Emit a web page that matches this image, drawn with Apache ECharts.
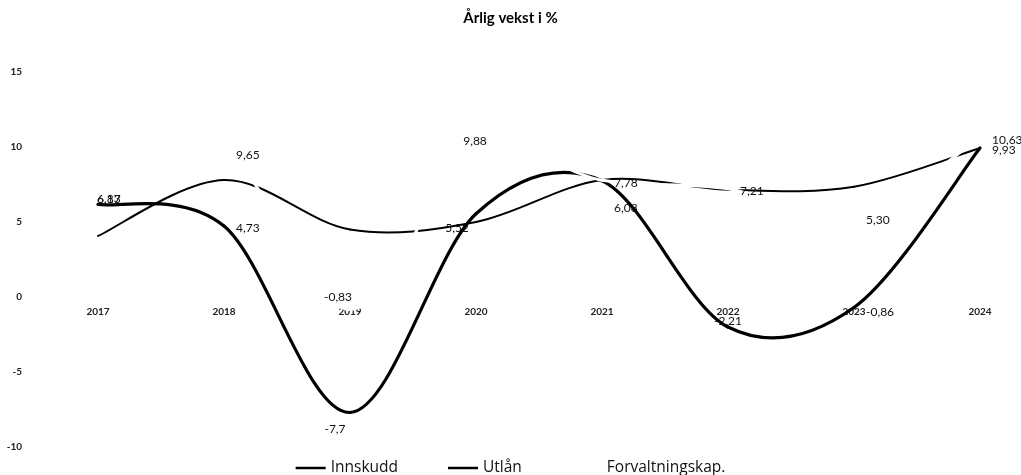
<!DOCTYPE html>
<html>
<head>
<meta charset="utf-8">
<title>Årlig vekst i %</title>
<script src="https://cdn.jsdelivr.net/npm/echarts@6/dist/echarts.min.js"></script>
<style>
  html, body { margin: 0; padding: 0; background: #fff; }
  #chart { width: 1021px; height: 475px; }
</style>
</head>
<body>
<div id="chart"></div>
<script>
// categories
const years = ['2017', '2018', '2019', '2020', '2021', '2022', '2023', '2024'];
// lines as drawn
const innskudd = [6.17, 4.73, -7.7, 5.55, 7.75, -2.0, -0.7, 9.93];
const utlan = [4.07, 7.8, 4.5, 5.0, 7.8, 7.15, 7.35, 9.93];
const forvaltning = [6.83, 9.65, -0.83, 9.88, 7.78, 7.21, 5.30, 10.63];
// data labels
const innskuddLabels = ['6,17', '4,73', '-7,7', '5,52', '6,08', '-2,21', '-0,86', '9,93'];
const forvaltningLabels = ['6,83', '9,65', '-0,83', '9,88', '7,78', '7,21', '5,30', '10,63'];
// y ticks
const yMin = -10, yMax = 15, yStep = 5;

const FONT = 'Lato, "Open Sans", sans-serif';

// excel-like smoothed line (catmull-rom through the points)
function curveSeries(name, vals, width, color, z) {
  const n = vals.length;
  return {
    type: 'custom',
    name: name,
    z: z,
    itemStyle: { color: color },
    data: vals.map((v, i) => [i, v]),
    encode: { x: 0, y: 1 },
    renderItem: function (params, api) {
      const i = params.dataIndex;
      if (i >= n - 1) return null;
      const P = k => {
        const j = Math.max(0, Math.min(n - 1, k));
        return api.coord([j, vals[j]]);
      };
      const p0 = P(i - 1), p1 = P(i), p2 = P(i + 1), p3 = P(i + 2);
      const t = 1 / 6;
      return {
        type: 'bezierCurve',
        silent: true,
        shape: {
          x1: p1[0], y1: p1[1], x2: p2[0], y2: p2[1],
          cpx1: p1[0] + (p2[0] - p0[0]) * t, cpy1: p1[1] + (p2[1] - p0[1]) * t,
          cpx2: p2[0] - (p3[0] - p1[0]) * t, cpy2: p2[1] - (p3[1] - p1[1]) * t
        },
        style: { stroke: color, lineWidth: width, fill: null, lineCap: 'round' }
      };
    }
  };
}

// value labels
function labelSeries(name, labels, color, z, tweaks) {
  const vals = labels.map(s => parseFloat(s.replace(',', '.')));
  return {
    type: 'custom',
    name: name,
    z: z,
    itemStyle: { color: color },
    data: vals.map((v, i) => [i, v]),
    encode: { x: 0, y: 1 },
    renderItem: function (params, api) {
      const i = params.dataIndex;
      const tw = Object.assign({ dx: 12, dy: 2.5, align: 'left' }, tweaks[i] || {});
      const p = api.coord([i, vals[i]]);
      return {
        type: 'text',
        silent: true,
        x: p[0] + tw.dx,
        y: p[1] + tw.dy,
        style: {
          text: labels[i],
          fill: '#111',
          font: '12px ' + FONT,
          align: tw.align,
          verticalAlign: 'middle'
        }
      };
    }
  };
}

const chart = echarts.init(document.getElementById('chart'));
chart.setOption({
  animation: false,
  backgroundColor: '#fff',
  title: {
    text: 'Årlig vekst i %',
    left: 'center',
    top: 6,
    textStyle: { fontFamily: FONT, fontSize: 15, fontWeight: 'bold', color: '#000' }
  },
  legend: {
    top: 455,
    left: 'center',
    itemWidth: 30,
    itemHeight: 2.5,
    itemGap: 50,
    data: [
      { name: 'Innskudd', icon: 'rect' },
      { name: 'Utlån', icon: 'rect' },
      { name: 'Forvaltningskap.', icon: 'rect' }
    ],
    itemStyle: { borderWidth: 0 },
    textStyle: { fontFamily: '"Open Sans", sans-serif', fontSize: 15.5, color: '#111' }
  },
  grid: { left: 98, right: 41, top: 72, bottom: 28 },
  xAxis: {
    type: 'category',
    data: years,
    boundaryGap: false,
    offset: -150,
    axisLine: { show: false, onZero: false },
    axisTick: { show: false },
    axisLabel: { margin: 10, fontFamily: FONT, fontSize: 10, fontWeight: 'bold', color: '#222' }
  },
  yAxis: {
    type: 'value',
    min: yMin,
    max: yMax,
    interval: yStep,
    splitLine: { show: false },
    axisLine: { show: false },
    axisTick: { show: false },
    axisLabel: { margin: 76, fontFamily: FONT, fontSize: 10, fontWeight: 'bold', color: '#222' }
  },
  series: [
    labelSeries('Innskudd', innskuddLabels, '#000', 2, {
      0: { dx: -1, dy: -5 },
      2: { dx: -15, dy: 17, align: 'center' },
      3: { dx: -19, dy: 14, align: 'center' },
      5: { dx: 0, dy: -9, align: 'center' }
    }),
    curveSeries('Innskudd', innskudd, 3.2, '#000', 3),
    curveSeries('Utlån', utlan, 2, '#000', 3),
    curveSeries('Forvaltningskap.', forvaltning, 3, '#fff', 4),
    labelSeries('Forvaltningskap.', forvaltningLabels, '#fff', 5, {
      0: { dx: -1, dy: 4.5 },
      2: { dx: -12, dy: -12, align: 'center' },
      3: { dx: -1, dy: -8, align: 'center' }
    })
  ]
});
</script>
</body>
</html>
